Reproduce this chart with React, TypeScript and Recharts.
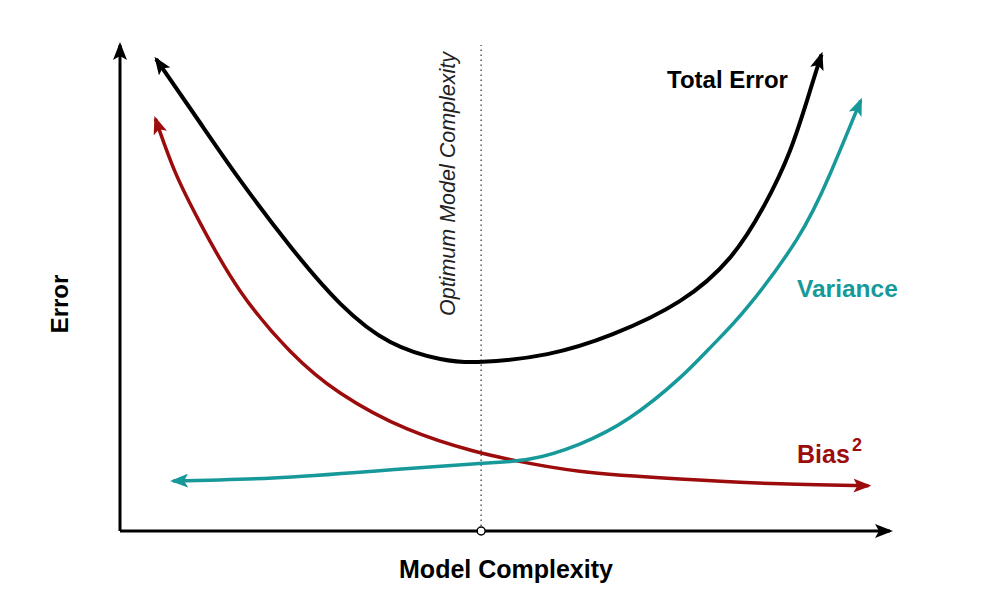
import { LineChart, Line, XAxis, YAxis, ReferenceLine, ReferenceDot } from "recharts";

// complexity (0-100) against error (0-100)
const totalErrorX = [4.7, 10.4, 15.6, 22.1, 28.6, 35.1, 41.6, 47.1, 55.5, 64.0, 72.7, 79.2, 83.5, 87.0, 89.6, 91.1];
const totalErrorY = [97.1, 84.0, 72.2, 58.6, 46.8, 38.9, 35.4, 34.8, 36.4, 40.5, 47.3, 56.2, 66.5, 78.2, 90.5, 98.0];

const biasX = [4.6, 7.1, 10.4, 15.6, 22.1, 28.6, 37.3, 45.8, 51.0, 59.7, 72.7, 85.7, 97.2];
const biasY = [84.8, 74.1, 63.4, 49.4, 37.0, 28.4, 21.0, 16.5, 14.6, 12.3, 10.7, 9.7, 9.3];

const varianceX = [6.9, 19.9, 32.9, 45.8, 53.2, 59.7, 66.2, 72.7, 77.0, 81.4, 87.9, 92.2, 96.2];
const varianceY = [10.3, 10.9, 12.3, 13.8, 14.8, 17.9, 23.3, 31.5, 38.3, 45.9, 60.0, 73.4, 88.6];

const optimum = 46.9;

const xAxisLine = [0, 100];
const yAxisLine = [0, 100];

const zip = (xs: number[], ys: number[]) => xs.map((x, i) => ({ x, y: ys[i] }));

const BLACK = "#000000";
const RED = "#9c0c0c";
const TEAL = "#17999a";
const FONT = "'Liberation Sans', Arial, Helvetica, sans-serif";

function Arrow({ id, color }: { id: string; color: string }) {
  return (
    <marker
      id={id}
      viewBox="0 0 18 14"
      markerWidth={18}
      markerHeight={14}
      refX={15}
      refY={7}
      orient="auto-start-reverse"
      markerUnits="userSpaceOnUse"
    >
      <path d="M0,0 L18,7 L0,14 L4,7 z" fill={color} />
    </marker>
  );
}

export default function App() {
  return (
    <div style={{ position: "absolute", left: 0, top: 0, width: 998, height: 610, background: "#fff" }}>
      <svg width={0} height={0} style={{ position: "absolute" }}>
        <defs>
          <Arrow id="arrowBlack" color={BLACK} />
          <Arrow id="arrowRed" color={RED} />
          <Arrow id="arrowTeal" color={TEAL} />
        </defs>
      </svg>
      <LineChart width={998} height={610} margin={{ top: 45, right: 108, bottom: 79, left: 120 }}>
        <XAxis type="number" dataKey="x" domain={[0, 100]} hide />
        <YAxis type="number" domain={[0, 100]} hide />
        <ReferenceLine x={optimum} stroke="#555" strokeWidth={1.5} strokeDasharray="1.5 3.5" />

        <Line
          data={zip(xAxisLine, [0, 0])}
          dataKey="y"
          type="linear"
          stroke={BLACK}
          strokeWidth={3}
          dot={false}
          markerEnd="url(#arrowBlack)"
          isAnimationActive={false}
        />
        <Line
          data={zip([0, 0], yAxisLine)}
          dataKey="y"
          type="linear"
          stroke={BLACK}
          strokeWidth={3}
          dot={false}
          markerEnd="url(#arrowBlack)"
          isAnimationActive={false}
        />

        <Line
          data={zip(biasX, biasY)}
          dataKey="y"
          type="natural"
          stroke={RED}
          strokeWidth={3.5}
          dot={false}
          markerStart="url(#arrowRed)"
          markerEnd="url(#arrowRed)"
          isAnimationActive={false}
        />
        <Line
          data={zip(varianceX, varianceY)}
          dataKey="y"
          type="natural"
          stroke={TEAL}
          strokeWidth={3.5}
          dot={false}
          markerStart="url(#arrowTeal)"
          markerEnd="url(#arrowTeal)"
          isAnimationActive={false}
        />
        <Line
          data={zip(totalErrorX, totalErrorY)}
          dataKey="y"
          type="natural"
          stroke={BLACK}
          strokeWidth={4}
          dot={false}
          markerStart="url(#arrowBlack)"
          markerEnd="url(#arrowBlack)"
          isAnimationActive={false}
        />

        <ReferenceDot x={optimum} y={0} r={4} fill="#fff" stroke={BLACK} strokeWidth={1.5} />

        <text x={667} y={88} fontFamily={FONT} fontWeight="bold" fontSize={24} fill={BLACK}>
          Total Error
        </text>
        <text x={797} y={297} fontFamily={FONT} fontWeight="bold" fontSize={24.5} fill={TEAL}>
          Variance
        </text>
        <text x={797} y={463} fontFamily={FONT} fontWeight="bold" fontSize={25} fill={RED}>
          Bias
        </text>
        <text x={852} y={451} fontFamily={FONT} fontWeight="bold" fontSize={18} fill={RED}>
          2
        </text>
        <text x={506} y={578} textAnchor="middle" fontFamily={FONT} fontWeight="bold" fontSize={25} fill={BLACK}>
          Model Complexity
        </text>
        <text
          x={68}
          y={304}
          transform="rotate(-90 68 304)"
          textAnchor="middle"
          fontFamily={FONT}
          fontWeight="bold"
          fontSize={24}
          fill={BLACK}
        >
          Error
        </text>
        <text
          x={455}
          y={184}
          transform="rotate(-90 455 184)"
          textAnchor="middle"
          fontFamily={FONT}
          fontStyle="italic"
          fontSize={21.5}
          fill="#222"
        >
          Optimum Model Complexity
        </text>
      </LineChart>
    </div>
  );
}
